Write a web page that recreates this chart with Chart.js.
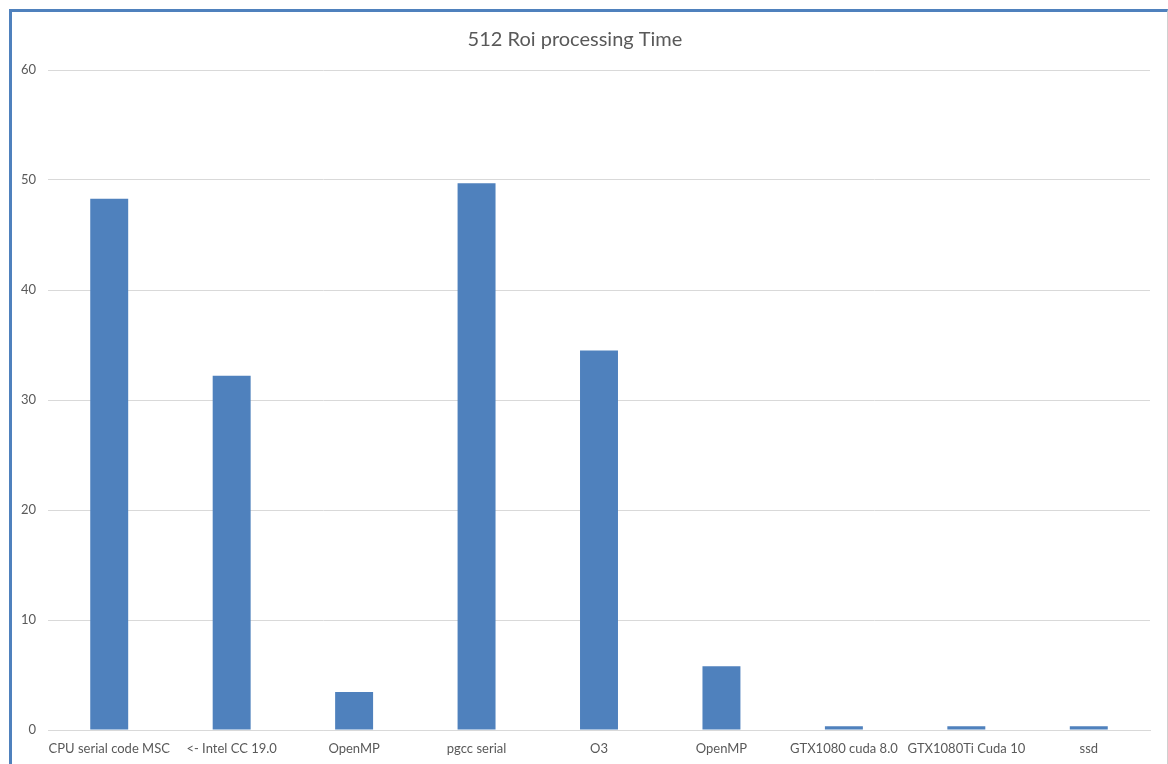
<!DOCTYPE html>
<html>
<head>
<meta charset="utf-8">
<script src="https://cdn.jsdelivr.net/npm/chart.js@4.4.1/dist/chart.umd.min.js"></script>
<style>
  html, body { margin: 0; padding: 0; background: #ffffff; }
  #wrap { position: relative; width: 1168px; height: 764px; overflow: hidden; }
  #frame {
    position: absolute; left: 9px; top: 9px; width: 1155px; height: 752px;
    border-top: 3px solid #4f81bd; border-left: 3px solid #4f81bd;
    border-right: 1px solid #d0d0d0; border-bottom: 1px solid #e6e6e6;
    pointer-events: none;
  }
  canvas { position: absolute; left: 0; top: 0; }
</style>
</head>
<body>
<div id="wrap">
  <canvas id="c" width="1168" height="764"></canvas>
  <div id="frame"></div>
</div>
<script>
// Processing time per build / device
const categories = [
  "CPU serial code MSC", "<- Intel CC 19.0", "OpenMP", "pgcc serial", "O3",
  "OpenMP", "GTX1080 cuda 8.0", "GTX1080Ti Cuda 10", "ssd"
];
const times = [48.3, 32.2, 3.45, 49.7, 34.5, 5.8, 0.35, 0.35, 0.35];
const yTicks = [0, 10, 20, 30, 40, 50, 60];

const FONT = "Lato, 'Open Sans', 'Liberation Sans', sans-serif";
const TEXT = "#595959";
const GRID = "#d9d9d9";

new Chart(document.getElementById("c"), {
  type: "bar",
  data: {
    labels: categories,
    datasets: [{
      label: "Time",
      data: times,
      backgroundColor: "#4f81bd",
      borderWidth: 0,
      barPercentage: 0.31,
      categoryPercentage: 1.0
    }]
  },
  options: {
    responsive: false,
    animation: false,
    devicePixelRatio: 1,
    layout: { padding: { left: 0, right: 18, top: 0, bottom: 0 } },
    plugins: {
      legend: { display: false },
      tooltip: { enabled: false },
      title: {
        display: true,
        text: "512 Roi processing Time",
        color: TEXT,
        font: { family: FONT, size: 20, weight: "normal" },
        padding: { top: 28, bottom: 18 }
      }
    },
    scales: {
      x: {
        grid: { display: false, drawTicks: false },
        border: { display: true, color: GRID, width: 1 },
        ticks: {
          color: TEXT, font: { family: FONT, size: 13 },
          padding: 11, autoSkip: false, maxRotation: 0, minRotation: 0
        },
        afterFit: (s) => { s.height = 34; }
      },
      y: {
        min: yTicks[0], max: yTicks[yTicks.length - 1],
        afterBuildTicks: (s) => { s.ticks = yTicks.map(v => ({ value: v })); },
        grid: { color: GRID, lineWidth: 1, drawTicks: false },
        border: { display: false },
        ticks: { color: TEXT, font: { family: FONT, size: 13 }, padding: 12 },
        afterFit: (s) => { s.width = 48; }
      }
    }
  }
});
</script>
</body>
</html>
